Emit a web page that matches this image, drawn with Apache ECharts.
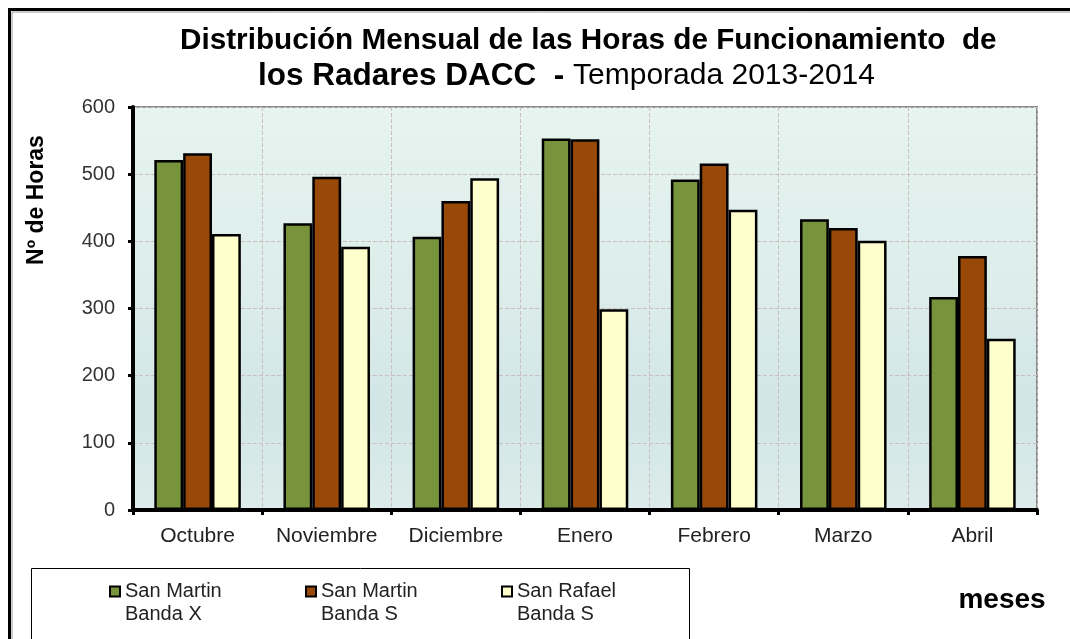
<!DOCTYPE html>
<html>
<head>
<meta charset="utf-8">
<script src="https://cdn.jsdelivr.net/npm/echarts@6/dist/echarts.min.js"></script>
<style>
    html, body { margin: 0; padding: 0; background: #fff; }
    #main { width: 1070px; height: 639px; }
</style>
</head>
<body>
<div id="main"></div>
<script>
// datos
var meses = ['Octubre', 'Noviembre', 'Diciembre', 'Enero', 'Febrero', 'Marzo', 'Abril'];
var sanMartinX = [521, 427, 407, 553, 492, 433, 317];
var sanMartinS = [531, 496, 460, 552, 516, 420, 378];
var sanRafaelS = [411, 392, 494, 299, 447, 401, 255];
var yTicks = [0, 100, 200, 300, 400, 500, 600];

var fuente = "'Liberation Sans', Arial, sans-serif";
var myChart = echarts.init(document.getElementById('main'));

function serie(nombre, datos, color) {
    return {
        name: nombre,
        type: 'bar',
        data: datos,
        barGap: '0%',
        barCategoryGap: '33%',
        itemStyle: { color: color, borderColor: '#000', borderWidth: 2.5 }
    };
}

var option = {
    animation: false,
    textStyle: { fontFamily: fuente },
    title: [
        {
            text: 'Distribución Mensual de las Horas de Funcionamiento  de',
            left: 180,
            top: 26,
            padding: 0,
            textStyle: { fontFamily: fuente, fontSize: 29.7, fontWeight: 'bold', color: '#000' }
        },
        {
            text: '{b|los Radares DACC  - }{n|Temporada 2013-2014}',
            left: 258,
            top: 60,
            padding: 0,
            textStyle: {
                rich: {
                    b: { fontFamily: fuente, fontSize: 31.5, fontWeight: 'bold', color: '#000' },
                    n: { fontFamily: fuente, fontSize: 30, fontWeight: 'normal', color: '#000' }
                }
            }
        }
    ],
    legend: {
        data: ['San Martin\nBanda X', 'San Martin\nBanda S', 'San Rafael\nBanda S'],
        left: 109,
        top: 557,
        padding: 0,
        itemGap: 2,
        itemWidth: 10,
        itemHeight: 10,
        icon: 'rect',
        itemStyle: { borderColor: '#000', borderWidth: 2 },
        formatter: function (n) { return '\n' + n; },
        textStyle: { fontFamily: fuente, fontSize: 20, lineHeight: 23, width: 178, color: '#222' }
    },
    grid: {
        left: 133,
        right: 33,
        top: 107,
        bottom: 129,
        show: true,
        borderColor: '#8c8c8c',
        borderWidth: 2,
        backgroundColor: new echarts.graphic.LinearGradient(0, 0, 0, 1, [
            { offset: 0, color: '#e7f4ef' },
            { offset: 0.45, color: '#dcedea' },
            { offset: 0.75, color: '#d2e5e7' },
            { offset: 1, color: '#dcecea' }
        ])
    },
    xAxis: {
        type: 'category',
        data: meses,
        boundaryGap: true,
        axisLine: { lineStyle: { color: '#000', width: 4 } },
        axisTick: { show: true, alignWithLabel: false, length: 5, lineStyle: { color: '#000', width: 3 } },
        axisLabel: { fontFamily: fuente, fontSize: 21, color: '#222', margin: 16, interval: 0 },
        splitLine: { show: true, lineStyle: { color: '#c9bfc0', type: 'dashed', width: 1 } }
    },
    yAxis: {
        type: 'value',
        min: yTicks[0],
        max: yTicks[yTicks.length - 1],
        interval: 100,
        axisLine: { show: true, lineStyle: { color: '#000', width: 4 } },
        axisTick: { show: true, length: 5, lineStyle: { color: '#000', width: 3 } },
        axisLabel: { fontFamily: fuente, fontSize: 20, color: '#333', margin: 18 },
        splitLine: { show: true, lineStyle: { color: '#c9bfc0', type: 'dashed', width: 1 } }
    },
    graphic: [
        // marco exterior
        { type: 'rect', z: 0, shape: { x: 9.5, y: 9.5, width: 1100, height: 700 }, style: { fill: 'none', stroke: '#000', lineWidth: 3 } },
        { type: 'rect', z: 0, shape: { x: 12, y: 12, width: 1100, height: 700 }, style: { fill: 'none', stroke: '#9a9a9a', lineWidth: 1 } },
        // caja de la leyenda
        { type: 'rect', z: 1, shape: { x: 31.5, y: 568.5, width: 658, height: 90 }, style: { fill: 'none', stroke: '#000', lineWidth: 1 } },
        {
            type: 'text', x: 37, y: 200, rotation: Math.PI / 2,
            style: { text: 'Nº de Horas', fontFamily: fuente, fontSize: 23, fontWeight: 'bold', fill: '#000', align: 'center', verticalAlign: 'middle' }
        },
        {
            type: 'text', x: 1002, y: 600,
            style: { text: 'meses', fontFamily: fuente, fontSize: 28, fontWeight: 'bold', fill: '#000', align: 'center', verticalAlign: 'middle' }
        }
    ],
    series: [
        serie('San Martin\nBanda X', sanMartinX, '#77933c'),
        serie('San Martin\nBanda S', sanMartinS, '#984807'),
        serie('San Rafael\nBanda S', sanRafaelS, '#ffffcc')
    ]
};
myChart.setOption(option);
</script>
</body>
</html>
